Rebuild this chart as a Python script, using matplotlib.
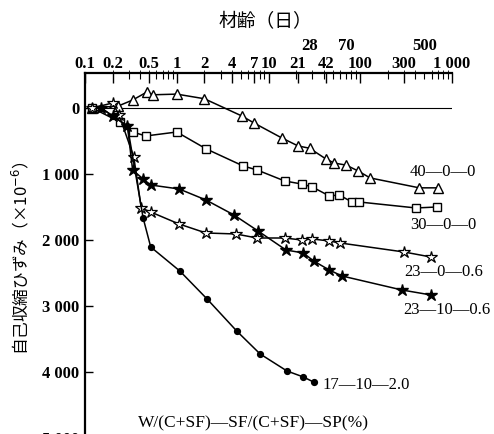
import matplotlib
matplotlib.use('Agg')
import matplotlib.pyplot as plt

# age (days) and autogenous shrinkage (x10^-6)
age_40 = [0.12, 0.23, 0.33, 0.47, 0.55, 1.0, 2.0, 5.1, 7.0, 14, 21, 28, 42, 52, 70, 95, 128, 440, 700]
shr_40 = [0, -30, -120, -240, -200, -210, -140, 120, 230, 455, 575, 610, 770, 835, 865, 955, 1060, 1210, 1210]

age_30 = [0.12, 0.24, 0.33, 0.46, 1.0, 2.1, 5.3, 7.5, 15, 23, 30, 46, 59, 81, 97, 405, 690]
shr_30 = [0, 212, 364, 424, 364, 621, 879, 939, 1106, 1152, 1197, 1333, 1318, 1424, 1424, 1515, 1500]

age_23a = [0.12, 0.2, 0.235, 0.34, 0.41, 0.52, 1.06, 2.08, 4.4, 7.5, 15, 23, 30, 46, 60, 300, 590]
shr_23a = [0, -76, 106, 742, 1515, 1576, 1758, 1894, 1909, 1970, 1970, 2000, 1985, 2015, 2045, 2182, 2258]

age_23b = [0.15, 0.2, 0.29, 0.33, 0.43, 0.52, 1.06, 2.08, 4.2, 7.7, 15.5, 24, 31, 46, 63, 285, 590]
shr_23b = [0, 121, 273, 939, 1076, 1167, 1227, 1394, 1621, 1864, 2152, 2197, 2318, 2455, 2545, 2758, 2833]

age_17 = [0.15, 0.2, 0.29, 0.43, 0.52, 1.08, 2.14, 4.5, 8.1, 15.9, 24, 31]
shr_17 = [0, 121, 273, 1667, 2106, 2470, 2894, 3379, 3727, 3985, 4076, 4152]

xticks = [0.1, 0.2, 0.5, 1, 2, 4, 7, 10, 21, 42, 100, 300, 1000]
xlabels = ['0.1', '0.2', '0.5', '1', '2', '4', '7', '10', '21', '42', '100', '300', '1 000']
xticks_up = [28, 70, 500]
xlabels_up = ['28', '70', '500']
yticks = [0, 1000, 2000, 3000, 4000, 5000]
ylabels = ['0', '1 000', '2 000', '3 000', '4 000', '5 000']

serif = 'Liberation Serif'
jp = ['Noto Sans CJK JP', 'DejaVu Sans']

fig = plt.figure(figsize=(4.94, 4.34), dpi=100)
ax = fig.add_axes([0.1721, -0.0253, 0.7429, 0.8571])

ax.axhline(0, color='black', lw=0.8, zorder=1)

ax.plot(age_40, shr_40, color='black', lw=1.1, marker='^', ms=6.5, mfc='white', mec='black', mew=1.0)
ax.plot(age_30, shr_30, color='black', lw=1.1, marker='s', ms=5.5, mfc='white', mec='black', mew=1.0)
ax.plot(age_23a, shr_23a, color='black', lw=1.1, marker='*', ms=9, mfc='white', mec='black', mew=0.9)
ax.plot(age_23b, shr_23b, color='black', lw=1.1, marker='*', ms=9, mfc='black', mec='black')
ax.plot(age_17, shr_17, color='black', lw=1.1, marker='o', ms=4.2, mfc='black', mec='black')

ax.set_xscale('log')
ax.set_xlim(0.1, 1000)
ax.set_ylim(5106, -530)

ax.xaxis.tick_top()
ax.set_xticks(xticks, xlabels)
ax.tick_params(axis='x', which='major', direction='in', length=7, width=1.0, pad=1)
ax.tick_params(axis='x', which='minor', direction='in', length=4, width=0.8)
ax.set_yticks(yticks, ylabels)
ax.tick_params(axis='y', direction='in', length=6, width=1.0, pad=4)
for lab in ax.get_xticklabels() + ax.get_yticklabels():
    lab.set_fontfamily(serif)
    lab.set_fontweight('bold')
    lab.set_fontsize(12)

sec = ax.secondary_xaxis('top')
sec.set_xticks(xticks_up, xlabels_up)
sec.tick_params(length=0, pad=14)
for lab in sec.get_xticklabels():
    lab.set_fontfamily(serif)
    lab.set_fontweight('bold')
    lab.set_fontsize(12)
for s in sec.spines.values():
    s.set_visible(False)

ax.spines['right'].set_visible(False)
ax.spines['bottom'].set_visible(False)
ax.spines['left'].set_linewidth(1.6)
ax.spines['top'].set_linewidth(1.6)

fig.text(0.537, 1 - 22 / 434, '材齢（日）', family=jp, fontsize=13.5, ha='center', va='center')
fig.text(0.043, 1 - 258 / 434, '自己収縮ひずみ（×10$^{-6}$）', family=jp, fontsize=12,
         rotation=90, ha='center', va='center')

ax.text(348, 970, '40—0—0', family=serif, fontsize=12, ha='left', va='center')
ax.text(348, 1773, '30—0—0', family=serif, fontsize=12, ha='left', va='center')
ax.text(298, 2485, '23—0—0.6', family=serif, fontsize=12, ha='left', va='center')
ax.text(292, 3061, '23—10—0.6', family=serif, fontsize=12, ha='left', va='center')
ax.text(39, 4197, '17—10—2.0', family=serif, fontsize=12, ha='left', va='center')
ax.text(6.8, 4773, 'W/(C+SF)—SF/(C+SF)—SP(%)', family=serif, fontsize=12.5, ha='center', va='center')

fig.savefig('out.png', dpi=100)
